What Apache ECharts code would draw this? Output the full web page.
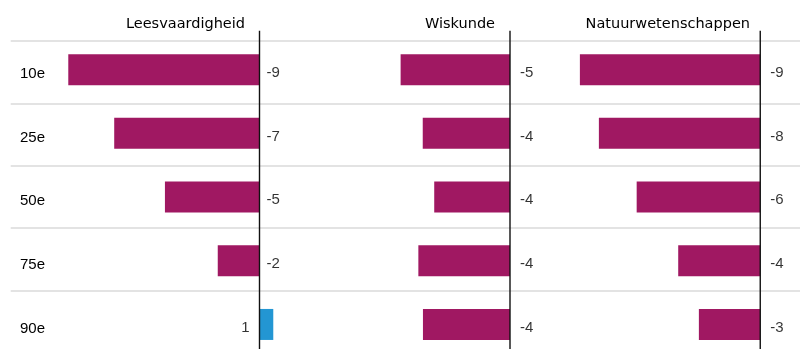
<!DOCTYPE html>
<html>
<head>
<meta charset="utf-8">
<script src="https://cdn.jsdelivr.net/npm/echarts@6/dist/echarts.min.js"></script>
<style>
  html, body { margin: 0; padding: 0; background: #ffffff; }
  #chart { width: 800px; height: 349px; }
</style>
</head>
<body>
<div id="chart"></div>
<script>
// Percentile groups (rows) and the three subject panels
const percentiles = ['10e', '25e', '50e', '75e', '90e'];
const subjects = ['Leesvaardigheid', 'Wiskunde', 'Natuurwetenschappen'];

// Score change per percentile, one list per subject
const leesvaardigheid = [-9.16, -6.96, -4.53, -2.0, 0.66];
const wiskunde = [-5.24, -4.18, -3.63, -4.39, -4.17];
const natuurwetenschappen = [-8.64, -7.73, -5.92, -3.93, -2.94];

const panelValues = [leesvaardigheid, wiskunde, natuurwetenschappen];

// Layout of the three panels (pixels)
const panelLeft = [50.75, 301.25, 551.5];
const panelWidth = 250.5;
const titleRight = [245, 495, 750];
const labelGap = [7, 10, 10];

const TITLE_FONT = '"DejaVu Sans", sans-serif';
const LABEL_FONT = '"Liberation Sans", Arial, sans-serif';
const TEXT = '#000000';
const NEG = '#a01862';
const POS = '#2396d3';

function roundLabel(v) {
  const r = Math.round(Math.abs(v)) * Math.sign(v);
  return String(r);
}

const grids = [];
const xAxes = [];
const yAxes = [];
const series = [];
const titles = [];

// Background grid: full-width row separators
grids.push({ left: 10.7, right: 0, top: 41, height: 312, outerBoundsMode: 'none', containLabel: false });
xAxes.push({ gridIndex: 0, type: 'value', show: false, min: 0, max: 1 });
yAxes.push({
  gridIndex: 0, type: 'category', data: percentiles, inverse: true,
  axisLine: { show: false }, axisTick: { show: false }, axisLabel: { show: false },
  splitLine: { show: true, lineStyle: { color: '#dadada', width: 1.5 } }
});

panelValues.forEach((vals, p) => {
  const g = p + 1;
  grids.push({
    left: panelLeft[p], width: panelWidth, top: 37.8, height: 318.5,
    outerBoundsMode: 'none', containLabel: false
  });
  xAxes.push({ gridIndex: g, type: 'value', min: -10, max: 2, show: false });
  yAxes.push({
    gridIndex: g, type: 'category', data: percentiles, inverse: true,
    axisLine: { show: false }, axisTick: { show: false },
    splitLine: { show: false },
    axisLabel: p === 0 ? {
      show: true, align: 'left', verticalAlign: 'top', lineHeight: 8.5,
      margin: panelLeft[0] - 20,
      fontFamily: LABEL_FONT, fontSize: 15, color: TEXT
    } : { show: false }
  });

  titles.push({
    text: subjects[p], left: titleRight[p], top: 16.5, textAlign: 'right', padding: 0,
    textStyle: { fontFamily: TITLE_FONT, fontSize: 14.5, fontWeight: 'normal', color: TEXT }
  });

  // Bars
  series.push({
    type: 'bar', xAxisIndex: g, yAxisIndex: g, barWidth: 31,
    data: vals.map(v => ({ value: v, itemStyle: { color: v < 0 ? NEG : POS } })),
    animation: false, z: 3
  });

  // Value labels placed on the opposite side of the zero line
  series.push({
    type: 'scatter', xAxisIndex: g, yAxisIndex: g, symbolSize: 0,
    data: vals.map((v, i) => ({
      value: [0, i, v],
      label: {
        show: true,
        position: v < 0 ? 'right' : 'left',
        distance: v < 0 ? labelGap[p] : 10,
        offset: [0, 3.2],
        formatter: () => roundLabel(v),
        fontFamily: LABEL_FONT, fontSize: 15, color: TEXT
      }
    })),
    animation: false, z: 5, silent: true
  });

  // Zero line, extended a little above the first row
  series.push({
    type: 'custom', xAxisIndex: g, yAxisIndex: g, clip: false,
    data: [[0, 0]],
    renderItem: (params, api) => {
      const x = api.coord([0, 0])[0];
      const cs = params.coordSys;
      return {
        type: 'line',
        shape: { x1: x, y1: cs.y - 7, x2: x, y2: cs.y + cs.height },
        style: { stroke: '#111111', lineWidth: 1.4 }
      };
    },
    animation: false, z: 6, silent: true
  });
});

const chart = echarts.init(document.getElementById('chart'), null, { renderer: 'canvas' });
chart.setOption({
  backgroundColor: '#ffffff',
  animation: false,
  title: titles,
  grid: grids,
  xAxis: xAxes,
  yAxis: yAxes,
  series: series
});
</script>
</body>
</html>
